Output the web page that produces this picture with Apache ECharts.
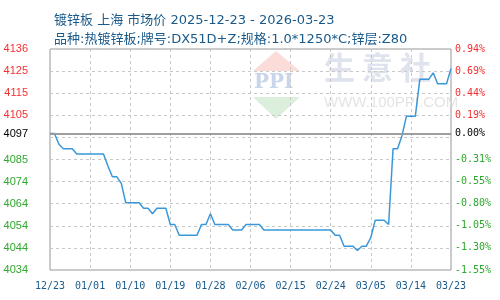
<!DOCTYPE html>
<html><head><meta charset="utf-8">
<script src="https://cdn.jsdelivr.net/npm/echarts@6/dist/echarts.min.js"></script>
<style>html,body{margin:0;padding:0;background:#fff}#c{width:500px;height:300px}</style>
</head><body><div id="c"></div>
<script>
var titleLine1 = '镀锌板 上海 市场价 2025-12-23 - 2026-03-23';
var titleLine2 = '品种:热镀锌板;牌号:DX51D+Z;规格:1.0*1250*C;锌层:Z80';
var basePrice = 4097;
var baseLabelLeft = '4097';
var baseLabelRight = '0.00%';
var xTickLabels = ['12/23','01/01','01/10','01/19','01/28','02/06','02/15','02/24','03/05','03/14','03/23'];
var leftTickLabels = ['4034','4044','4054','4064','4074','4085','','4105','4115','4125','4136'];
var rightTickLabels = ['-1.55%','-1.30%','-1.05%','-0.80%','-0.55%','-0.31%','','0.19%','0.44%','0.69%','0.94%'];
var yMin = 4034, yMax = 4136;
var prices = [
 4097,4097,4092,4090,4090,4090,4087.5,4087.5,4087.5,4087.5,
 4087.5,4087.5,4087.5,4082,4077,4077,4074,4065,4065,4065,
 4065,4062.5,4062.5,4060,4062.5,4062.5,4062.5,4055,4055,4050,
 4050,4050,4050,4050,4055,4055,4060,4055,4055,4055,
 4055,4052.5,4052.5,4052.5,4055,4055,4055,4055,4052.5,4052.5,
 4052.5,4052.5,4052.5,4052.5,4052.5,4052.5,4052.5,4052.5,4052.5,4052.5,
 4052.5,4052.5,4052.5,4052.5,4050,4050,4045,4045,4045,4043,
 4045,4045,4049,4057,4057,4057,4055,4090,4090,4096,
 4105,4105,4105,4122,4122,4122,4125,4120,4120,4120,
 4127
];
// daily category dates 2025-12-23 .. 2026-03-23
var dates = [];
var t0 = Date.UTC(2025, 11, 23);
for (var i = 0; i < prices.length; i++) {
  var d = new Date(t0 + i * 86400000);
  var mm = ('0' + (d.getUTCMonth() + 1)).slice(-2), dd = ('0' + d.getUTCDate()).slice(-2);
  dates.push(mm + '/' + dd);
}
var RED = '#f52f2f', GREEN = '#2ea82e', BLUE_TXT = '#1a5a8a';
function sideColor(i) { return i > 6 ? RED : (i < 6 ? GREEN : '#000'); }
function showX(idx, val) { return xTickLabels.indexOf(val) >= 0; }

var chart = echarts.init(document.getElementById('c'), null, {renderer: 'canvas'});
chart.setOption({
  animation: false,
  backgroundColor: '#fff',
  title: {
    text: titleLine1 + '\n' + titleLine2,
    left: 49, top: 6,
    textStyle: {fontSize: 13, fontWeight: 'normal', color: BLUE_TXT, lineHeight: 19, fontFamily: '"DejaVu Sans", "Noto Sans CJK SC", sans-serif'}
  },
  grid: {left: 50, right: 49, top: 49, bottom: 30, show: true, borderColor: '#999', borderWidth: 1, backgroundColor: 'transparent'},
  graphic: [
    {type: 'polygon', z: 0, shape: {points: [[276, 51], [300, 71], [253, 71]]}, style: {fill: '#fbdcd8'}},
    {type: 'polygon', z: 0, shape: {points: [[253, 97], [300, 97], [276, 119]]}, style: {fill: '#dcefdc'}},
    {type: 'text', z: 0, left: 254, top: 73, style: {text: 'PPI', fill: '#c9d5ea', font: 'bold 20px "DejaVu Serif", serif'}},
    {type: 'text', z: 0, left: 324, top: 52, style: {text: '生 意 社', fill: '#dfe3ee', font: 'bold 31px "Noto Sans CJK SC", sans-serif'}},
    {type: 'text', z: 0, left: 324, top: 95, style: {text: 'WWW.100PPI.COM', fill: '#e4e4e4', font: '15px "Liberation Sans", sans-serif'}}
  ],
  xAxis: {
    type: 'category', boundaryGap: false, data: dates,
    axisLine: {show: false}, axisTick: {show: false},
    axisLabel: {interval: showX, margin: 11, color: BLUE_TXT, fontSize: 10, fontFamily: '"DejaVu Sans Mono", monospace'},
    splitLine: {show: true, interval: showX, lineStyle: {color: '#c8c8c8', type: [3, 3]}}
  },
  yAxis: [
    {type: 'value', min: yMin, max: yMax, show: false},
    {type: 'value', min: 0, max: 10, interval: 1, position: 'left',
     axisLine: {show: false}, axisTick: {show: false},
     axisLabel: {margin: 22, fontSize: 11, fontFamily: '"Liberation Sans", sans-serif',
       formatter: function (v) { return leftTickLabels[Math.round(v)]; },
       color: function (v, i) { return sideColor(Math.round(v)); }},
     splitLine: {show: true, lineStyle: {color: '#c8c8c8', type: [3, 3]}}},
    {type: 'value', min: 0, max: 10, interval: 1, position: 'right',
     axisLine: {show: false}, axisTick: {show: false},
     axisLabel: {margin: 4, fontSize: 10, fontFamily: '"DejaVu Sans Mono", monospace',
       formatter: function (v) { return rightTickLabels[Math.round(v)]; },
       color: function (v, i) { return sideColor(Math.round(v)); }},
     splitLine: {show: false}}
  ],
  series: [{
    type: 'line', yAxisIndex: 0, data: prices, showSymbol: false, symbol: 'none',
    lineStyle: {color: '#3a98da', width: 1.5}, z: 3,
    markLine: {
      silent: true, symbol: 'none',
      lineStyle: {color: '#999', type: 'solid', width: 1.5},
      data: [
        {yAxis: basePrice, label: {position: 'start', distance: 22, formatter: baseLabelLeft, color: '#000', fontSize: 11, fontFamily: '"Liberation Sans", sans-serif'}},
        {yAxis: basePrice, label: {position: 'end', distance: 4, formatter: baseLabelRight, color: '#000', fontSize: 10, fontFamily: '"DejaVu Sans Mono", monospace'}}
      ]
    }
  }]
});
</script></body></html>
